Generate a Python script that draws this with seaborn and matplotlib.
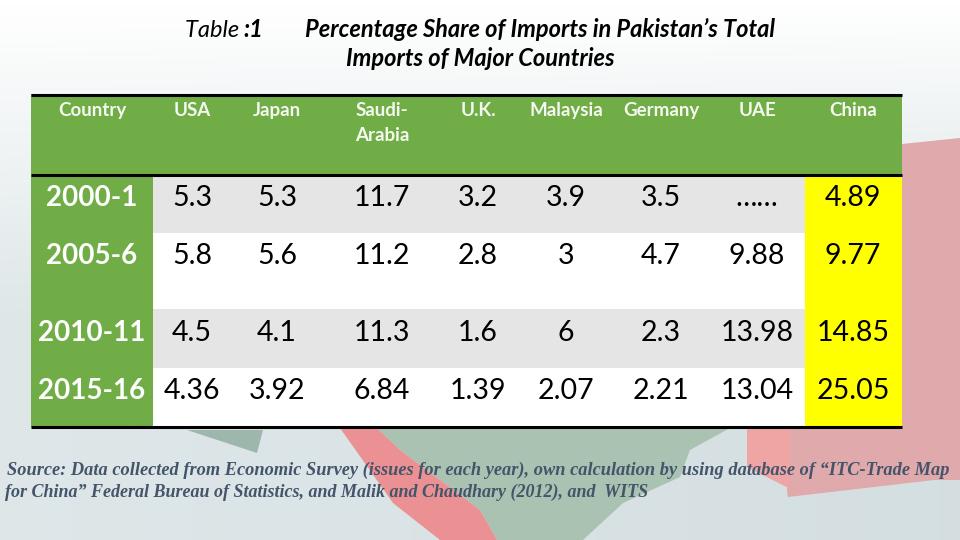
import numpy as np
import matplotlib
matplotlib.use("Agg")
import matplotlib.pyplot as plt
from matplotlib.colors import ListedColormap
import seaborn as sns

# ─── Data ─────────────────────────────────────────────────────────────────────
countries = ["USA", "Japan", "Saudi-\nArabia", "U.K.", "Malaysia", "Germany", "UAE", "China"]
years = ["2000-1", "2005-6", "2010-11", "2015-16"]
usa = ["5.3", "5.8", "4.5", "4.36"]
japan = ["5.3", "5.6", "4.1", "3.92"]
saudi = ["11.7", "11.2", "11.3", "6.84"]
uk = ["3.2", "2.8", "1.6", "1.39"]
malaysia = ["3.9", "3", "6", "2.07"]
germany = ["3.5", "4.7", "2.3", "2.21"]
uae = ["……", "9.88", "13.98", "13.04"]
china = ["4.89", "9.77", "14.85", "25.05"]
series = [usa, japan, saudi, uk, malaysia, germany, uae, china]

# ─── Layout (pixels of the 960x540 picture) ───────────────────────────────────
T_LEFT, T_TOP = 31, 94
row_edges = [94, 175, 233, 309, 368, 427]
col_edges = [31, 153, 805, 902]
col_x = [192, 277, 382, 478, 566, 661, 757, 853]
row_y = [198, 256, 333, 391]

GREEN = "#70ad47"
GREY = "#e5e5e5"
WHITE = "#ffffff"
YELLOW = "#ffff00"
PINK = "#e0a9ab"
SAGE = "#a9c2b1"

sns.set_theme(style="white")
plt.rcParams["font.family"] = ["Lato", "DejaVu Sans"]

fig = plt.figure(figsize=(9.6, 5.4), dpi=100)

# ─── Washed out slide background ──────────────────────────────────────────────
bg = fig.add_axes([0, 0, 1, 1])
grad = np.clip(np.linspace(0, 1, 54) * 1.7, 0, 1)[:, None] * np.ones((54, 96))
grad = grad * np.linspace(0.8, 1.05, 96)[None, :]
bg_rgb = np.ones((54, 96, 3))
bg_rgb[..., 0] -= grad * 0.16
bg_rgb[..., 1] -= grad * 0.12
bg_rgb[..., 2] -= grad * 0.11
bg.imshow(bg_rgb, extent=[0, 960, 540, 0], aspect="auto", interpolation="bilinear")
bg.fill([902, 960, 960, 902], [144, 138, 480, 480], color=PINK, lw=0)
bg.fill([377, 730, 690, 680, 623, 583, 497, 480, 400],
        [428, 428, 450, 477, 503, 540, 540, 510, 450], color=SAGE, lw=0)
bg.fill([747, 960, 960, 788, 787, 747], [428, 428, 477, 497, 487, 467], color=PINK, lw=0)
bg.fill([747, 790, 790, 788, 787, 747], [428, 428, 470, 497, 487, 467], color="#f0a5a5", lw=0)
bg.fill([340, 377, 400, 480, 497, 440, 393], [428, 428, 450, 510, 540, 540, 503],
        color="#ec9193", lw=0)
bg.fill([187, 263, 257], [430, 430, 453], color="#9db7ac", lw=0)
bg.set_xlim(0, 960)
bg.set_ylim(540, 0)
bg.axis("off")

bg.text(185, 37, "Table ", style="italic", fontsize=17, color="black", va="baseline")
bg.text(243, 37, ":1", style="italic", weight="bold", fontsize=17, color="black", va="baseline")
bg.text(540, 37, "Percentage Share of Imports in Pakistan’s Total", style="italic",
        weight="bold", fontsize=17, color="black", ha="center", va="baseline")
bg.text(480, 66, "Imports of Major Countries", style="italic",
        weight="bold", fontsize=17, color="black", ha="center", va="baseline")

source_kw = dict(family="Liberation Serif", style="italic", weight="bold",
                 color="#44546a", va="center")
bg.text(7, 470, "Source: Data collected from Economic Survey (issues for each year), own "
        "calculation by using database of “ITC-Trade Map", fontsize=13.2, **source_kw)
bg.text(5, 492, "for China” Federal Bureau of Statistics, and Malik and Chaudhary (2012), and  WITS",
        fontsize=12.95, **source_kw)

# ─── Table cells, one heatmap cell per pixel so rows and columns can differ ───
row_h = np.diff(row_edges)
col_w = np.diff(col_edges)
codes = np.array([[0, 0, 0],
                  [0, 1, 3],
                  [0, 2, 3],
                  [0, 1, 3],
                  [0, 2, 3]])
cells = np.repeat(np.repeat(codes, row_h, axis=0), col_w, axis=1)

ax = fig.add_axes([T_LEFT / 960, 1 - row_edges[-1] / 540,
                   (col_edges[-1] - T_LEFT) / 960, (row_edges[-1] - T_TOP) / 540])
sns.heatmap(cells, ax=ax, cmap=ListedColormap([GREEN, GREY, WHITE, YELLOW]),
            vmin=-0.5, vmax=3.5, cbar=False, xticklabels=False, yticklabels=False,
            rasterized=True)
ax.set_xlim(0, col_edges[-1] - T_LEFT)
ax.set_ylim(row_edges[-1] - T_TOP, 0)
for spine in ax.spines.values():
    spine.set_visible(False)

def px(x):
    return x - T_LEFT

def py(y):
    return y - T_TOP

for y_line, lw in [(94.5, 2.2), (174.5, 2.2), (427, 2.2)]:
    ax.plot([0, col_edges[-1] - T_LEFT], [py(y_line)] * 2, color="black", lw=lw,
            clip_on=False, solid_capstyle="butt")

ax.text(px(92), py(102), "Country", color="#f4f8ef", weight="bold", fontsize=13.5,
        ha="center", va="top", clip_on=False)
for name, x in zip(countries, col_x):
    ax.text(px(x), py(102), name, color="#f4f8ef", weight="bold", fontsize=13.5,
            ha="center", va="top", linespacing=1.55)

for year, y in zip(years, row_y):
    ax.text(px(92), py(y), year, color="white", weight="bold", fontsize=20,
            ha="center", va="center")

for values, x in zip(series, col_x):
    for val, y in zip(values, row_y):
        ax.text(px(x), py(y), val, color="black", fontsize=20.5, ha="center", va="center")

plt.savefig("out.png", dpi=100)
print("Saved: out.png")
